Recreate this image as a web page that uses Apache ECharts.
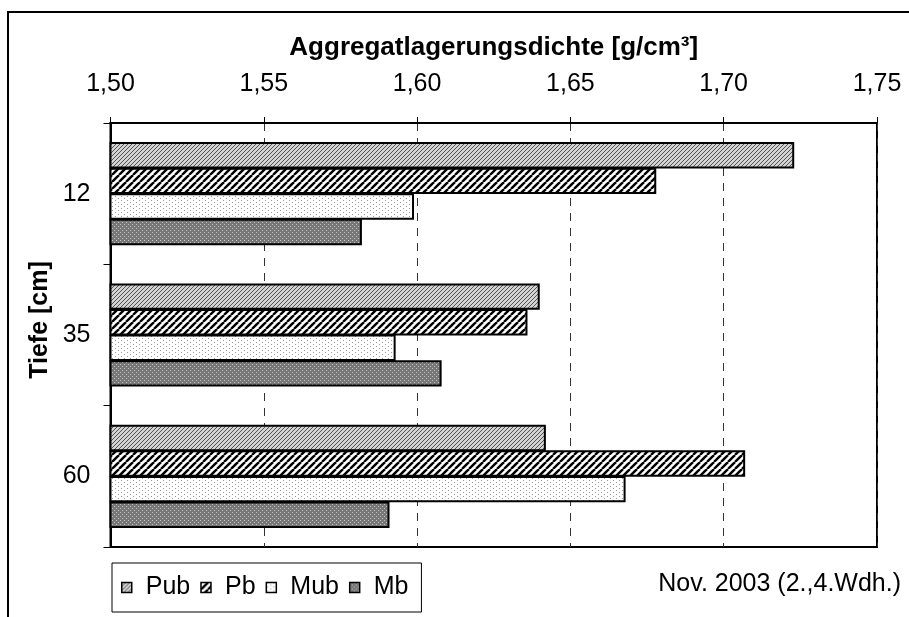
<!DOCTYPE html>
<html>
<head>
    <meta charset="utf-8">
    <title>Aggregatlagerungsdichte</title>
    <script src="https://cdn.jsdelivr.net/npm/echarts@6/dist/echarts.min.js"></script>
    <style>
        body { margin: 0; background: #fff; }
    </style>
</head>
<body>
    <div id="main" style="width: 909px; height: 617px;"></div>
    <script type="text/javascript">
    // Tiefe (cm), top to bottom
    var depths = ['12', '35', '60'];
    var seriesNames = ['Pub', 'Pb', 'Mub', 'Mb'];
    var pub = [1.723, 1.640, 1.642];
    var pb = [1.678, 1.636, 1.707];
    var mub = [1.599, 1.593, 1.668];
    var mb = [1.582, 1.608, 1.591];
    var xTicks = [1.50, 1.55, 1.60, 1.65, 1.70, 1.75];

    var FONT = '"Liberation Sans", Arial, sans-serif';

    // little tiles for the hatch fills
    function tile(w, h, draw) {
        var c = document.createElement('canvas');
        c.width = w; c.height = h;
        var ctx = c.getContext('2d');
        draw(ctx, w, h);
        return { image: c, repeat: 'repeat' };
    }
    var pubFill = tile(4, 4, function(ctx) {
        ctx.fillStyle = '#d2d2d2'; ctx.fillRect(0, 0, 4, 4);
        ctx.fillStyle = '#555';
        for (var i = 0; i < 4; i++) ctx.fillRect(3 - i, i, 1, 1);
    });
    var pbFill = tile(7, 7, function(ctx) {
        ctx.fillStyle = '#fff'; ctx.fillRect(0, 0, 7, 7);
        ctx.strokeStyle = '#000'; ctx.lineWidth = 2.4;
        [-7, 0, 7].forEach(function(o) {
            ctx.beginPath(); ctx.moveTo(o, 7); ctx.lineTo(o + 7, 0); ctx.stroke();
        });
    });
    var mubFill = tile(6, 4, function(ctx) {
        ctx.fillStyle = '#fff'; ctx.fillRect(0, 0, 6, 4);
        ctx.fillStyle = '#999';
        ctx.fillRect(1, 0, 1, 1); ctx.fillRect(4, 2, 1, 1);
    });
    var mbFill = tile(4, 4, function(ctx) {
        ctx.fillStyle = '#777'; ctx.fillRect(0, 0, 4, 4);
        ctx.fillStyle = '#c4c4c4';
        ctx.fillRect(0, 0, 1, 1); ctx.fillRect(2, 2, 1, 1);
    });
    var fills = [pubFill, pbFill, mubFill, mbFill];
    var values = [pub, pb, mub, mb];

    var series = seriesNames.map(function(name, i) {
        return {
            name: name,
            type: 'bar',
            data: values[i],
            barGap: '-3%',
            barCategoryGap: '27%',
            itemStyle: { color: fills[i], borderColor: '#000', borderWidth: 2 }
        };
    });

    var legendData = seriesNames.map(function(name, i) {
        return {
            name: name,
            icon: 'rect',
            itemStyle: { color: fills[i], borderColor: '#000', borderWidth: 1.5 }
        };
    });

    var myChart = echarts.init(document.getElementById('main'));
    var option = {
        animation: false,
        backgroundColor: '#fff',
        textStyle: { fontFamily: FONT, color: '#000' },
        grid: {
            left: 110.5, right: 32, top: 123, bottom: 70,
            show: true, borderColor: '#000', borderWidth: 2
        },
        legend: {
            left: 112, top: 563,
            orient: 'horizontal',
            data: legendData,
            itemWidth: 10, itemHeight: 10, itemGap: 10,
            padding: [12, 13, 12, 9],
            borderColor: '#000', borderWidth: 1,
            textStyle: { fontSize: 25, fontFamily: FONT, color: '#000', padding: [0, 0, 0, 9] }
        },
        xAxis: {
            type: 'value',
            position: 'top',
            min: xTicks[0], max: xTicks[xTicks.length - 1], interval: 0.05,
            name: 'Aggregatlagerungsdichte [g/cm³]',
            nameLocation: 'middle',
            nameGap: 62,
            nameTextStyle: { fontSize: 26, fontWeight: 'bold', fontFamily: FONT, color: '#000' },
            axisLine: { show: true, lineStyle: { color: '#000', width: 2 } },
            axisTick: { show: true, length: 6, lineStyle: { color: '#000', width: 1 } },
            axisLabel: {
                fontSize: 25, color: '#000', margin: 26,
                formatter: function(v) { return v.toFixed(2).replace('.', ','); }
            },
            splitLine: { show: true, lineStyle: { color: '#333', width: 1, type: [8, 7] } }
        },
        yAxis: {
            type: 'category',
            data: depths,
            inverse: true,
            axisLine: { show: true, lineStyle: { color: '#000', width: 2 } },
            axisTick: { show: true, length: 7, lineStyle: { color: '#000', width: 1 } },
            axisLabel: { fontSize: 25, color: '#000', margin: 20 },
            splitLine: { show: false }
        },
        graphic: [
            {
                type: 'rect', silent: true, z: -1,
                shape: { x: 8, y: 12, width: 1000, height: 700 },
                style: { fill: null, stroke: '#000', lineWidth: 2 }
            },
            {
                type: 'text', silent: true,
                x: 40, y: 320, rotation: Math.PI / 2,
                style: {
                    text: 'Tiefe [cm]', x: 0, y: 0,
                    align: 'center', verticalAlign: 'middle',
                    font: 'bold 25px ' + FONT, fill: '#000'
                }
            },
            {
                type: 'text', silent: true,
                style: {
                    text: 'Nov. 2003 (2.,4.Wdh.)', x: 901, y: 584,
                    align: 'right', verticalAlign: 'middle',
                    font: '25px ' + FONT, fill: '#000'
                }
            }
        ],
        series: series
    };
    myChart.setOption(option);
    </script>
</body>
</html>
